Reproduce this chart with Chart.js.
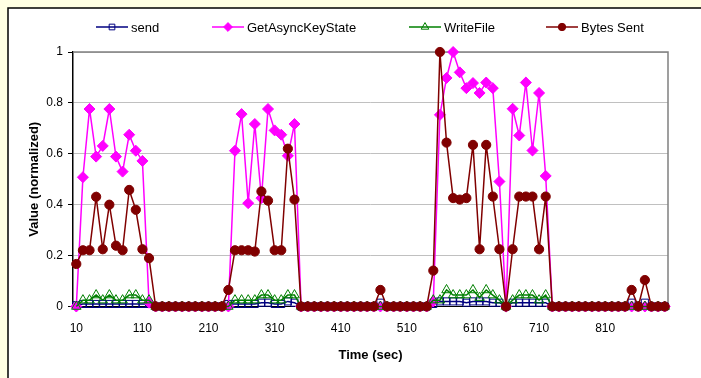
<!DOCTYPE html>
<html>
<head>
<meta charset="utf-8">
<title>Value (normalized) over time</title>
<script src="https://cdn.jsdelivr.net/npm/chart.js@4.4.1/dist/chart.umd.min.js"></script>
<style>
    html, body { margin: 0; padding: 0; background: #ffffe3; }
    #wrap { width: 701px; height: 378px; }
</style>
</head>
<body>
<div id="wrap"><canvas id="trafficChart" width="701" height="378"></canvas></div>
<script>
// sample times (sec)
const times = [
    10, 20, 30, 40, 50, 60, 70, 80, 90, 100,
    110, 120, 130, 140, 150, 160, 170, 180, 190, 200,
    210, 220, 230, 240, 250, 260, 270, 280, 290, 300,
    310, 320, 330, 340, 350, 360, 370, 380, 390, 400,
    410, 420, 430, 440, 450, 460, 470, 480, 490, 500,
    510, 520, 530, 540, 550, 560, 570, 580, 590, 600,
    610, 620, 630, 640, 650, 660, 670, 680, 690, 700,
    710, 720, 730, 740, 750, 760, 770, 780, 790, 800,
    810, 820, 830, 840, 850, 860, 870, 880, 890, 900
];

const xTickLabels = [10, 110, 210, 310, 410, 510, 610, 710, 810];
const yTicks = [0, 0.2, 0.4, 0.6, 0.8, 1];

const send = [
    0.005, 0.01, 0.01, 0.01, 0.01, 0.01, 0.01, 0.01, 0.01, 0.01,
    0.01, 0.01, 0, 0, 0, 0, 0, 0, 0, 0,
    0, 0, 0, 0.01, 0.01, 0.01, 0.01, 0.01, 0.015, 0.015,
    0.01, 0.01, 0.02, 0.015, 0, 0, 0, 0, 0, 0,
    0, 0, 0, 0, 0, 0, 0.015, 0, 0, 0,
    0, 0, 0, 0, 0.01, 0.02, 0.02, 0.02, 0.02, 0.015,
    0.02, 0.02, 0.02, 0.015, 0.015, 0, 0.015, 0.015, 0.015, 0.015,
    0.015, 0.015, 0, 0, 0, 0, 0, 0, 0, 0,
    0, 0, 0, 0, 0.015, 0, 0.015, 0, 0, 0
];

const getAsyncKeyState = [
    0, 0.508, 0.776, 0.589, 0.631, 0.776, 0.589, 0.530, 0.675, 0.612,
    0.572, 0.015, 0, 0, 0, 0, 0, 0, 0, 0,
    0, 0, 0, 0, 0.612, 0.756, 0.406, 0.717, 0.426, 0.776,
    0.692, 0.675, 0.592, 0.717, 0, 0, 0, 0, 0, 0,
    0, 0, 0, 0, 0, 0, 0, 0, 0, 0,
    0, 0, 0, 0, 0.020, 0.753, 0.898, 1.000, 0.920, 0.858,
    0.878, 0.839, 0.880, 0.858, 0.491, 0, 0.777, 0.672, 0.880, 0.613,
    0.839, 0.513, 0, 0, 0, 0, 0, 0, 0, 0,
    0, 0, 0, 0, 0, 0, 0, 0, 0, 0
];

const writeFile = [
    0, 0.025, 0.025, 0.045, 0.025, 0.045, 0.025, 0.025, 0.045, 0.045,
    0.025, 0.025, 0, 0, 0, 0, 0, 0, 0, 0,
    0, 0, 0, 0, 0.025, 0.025, 0.025, 0.025, 0.045, 0.045,
    0.025, 0.025, 0.045, 0.045, 0, 0, 0, 0, 0, 0,
    0, 0, 0, 0, 0, 0, 0, 0, 0, 0,
    0, 0, 0, 0, 0.025, 0.025, 0.065, 0.045, 0.045, 0.045,
    0.065, 0.035, 0.065, 0.045, 0.025, 0, 0.025, 0.045, 0.045, 0.045,
    0.025, 0.045, 0, 0, 0, 0, 0, 0, 0, 0,
    0, 0, 0, 0, 0, 0, 0, 0, 0, 0
];

const bytesSent = [
    0.167, 0.221, 0.221, 0.431, 0.225, 0.400, 0.239, 0.221, 0.458, 0.380,
    0.225, 0.190, 0, 0, 0, 0, 0, 0, 0, 0,
    0, 0, 0, 0.065, 0.221, 0.221, 0.221, 0.216, 0.452, 0.416,
    0.221, 0.221, 0.620, 0.420, 0, 0, 0, 0, 0, 0,
    0, 0, 0, 0, 0, 0, 0.065, 0, 0, 0,
    0, 0, 0, 0, 0.141, 1.000, 0.644, 0.426, 0.420, 0.426,
    0.635, 0.225, 0.635, 0.432, 0.225, 0, 0.225, 0.432, 0.432, 0.432,
    0.225, 0.432, 0, 0, 0, 0, 0, 0, 0, 0,
    0, 0, 0, 0, 0.065, 0, 0.104, 0, 0, 0
];

const FONT = "'Liberation Sans', Arial, sans-serif";

// series look: line colour, marker shape, filled or hollow
const series = [
    { label: 'send', data: send, color: '#000080', shape: 'rect', radius: 5, filled: false },
    { label: 'GetAsyncKeyState', data: getAsyncKeyState, color: '#ff00ff', shape: 'rectRot', radius: 5.5, filled: true },
    { label: 'WriteFile', data: writeFile, color: '#008000', shape: 'triangle', radius: 5.5, filled: false },
    { label: 'Bytes Sent', data: bytesSent, color: '#800000', shape: 'circle', radius: 4.6, filled: true }
];

// yellow page with white panel, black edge top and left
const panelBackground = {
    id: 'panelBackground',
    beforeDraw(chart) {
        const ctx = chart.ctx;
        ctx.save();
        ctx.fillStyle = '#ffffe3';
        ctx.fillRect(0, 0, chart.width, chart.height);
        ctx.fillStyle = '#ffffff';
        ctx.fillRect(8, 8, chart.width - 8, chart.height - 8);
        ctx.strokeStyle = '#000000';
        ctx.lineWidth = 1.5;
        ctx.beginPath();
        ctx.moveTo(8, chart.height);
        ctx.lineTo(8, 8);
        ctx.lineTo(chart.width, 8);
        ctx.stroke();
        ctx.restore();
    }
};

// gray frame on the top and right of the plot area
const plotFrame = {
    id: 'plotFrame',
    beforeDatasetsDraw(chart) {
        const { ctx, chartArea: a } = chart;
        ctx.save();
        ctx.strokeStyle = '#808080';
        ctx.lineWidth = 1.5;
        ctx.beginPath();
        ctx.moveTo(a.left, a.top);
        ctx.lineTo(a.right, a.top);
        ctx.lineTo(a.right, a.bottom);
        ctx.stroke();
        ctx.restore();
    }
};

function drawMarker(ctx, s, x, y) {
    const r = s.radius;
    ctx.beginPath();
    if (s.shape === 'rect') {
        const h = r * Math.SQRT1_2;
        ctx.rect(x - h, y - h, 2 * h, 2 * h);
    } else if (s.shape === 'rectRot') {
        ctx.moveTo(x, y - r);
        ctx.lineTo(x + r, y);
        ctx.lineTo(x, y + r);
        ctx.lineTo(x - r, y);
        ctx.closePath();
    } else if (s.shape === 'triangle') {
        ctx.moveTo(x, y - r);
        ctx.lineTo(x + r * 0.866, y + r * 0.5);
        ctx.lineTo(x - r * 0.866, y + r * 0.5);
        ctx.closePath();
    } else {
        ctx.arc(x, y, r, 0, Math.PI * 2);
    }
    if (s.filled) {
        ctx.fillStyle = s.color;
        ctx.fill();
    }
    ctx.strokeStyle = s.color;
    ctx.lineWidth = 1;
    ctx.stroke();
}

// line-and-marker legend across the top
const legendRow = {
    id: 'legendRow',
    afterDraw(chart) {
        const ctx = chart.ctx;
        const starts = [96, 212, 409, 546];
        const y = 27;
        ctx.save();
        ctx.font = '13px ' + FONT;
        ctx.textBaseline = 'middle';
        ctx.textAlign = 'left';
        series.forEach((s, i) => {
            const x0 = starts[i];
            ctx.strokeStyle = s.color;
            ctx.lineWidth = 1.5;
            ctx.beginPath();
            ctx.moveTo(x0, y);
            ctx.lineTo(x0 + 32, y);
            ctx.stroke();
            drawMarker(ctx, Object.assign({}, s, { radius: s.radius * 0.8 }), x0 + 16, y);
            ctx.fillStyle = '#000000';
            ctx.fillText(s.label, x0 + 35, y + 1);
        });
        ctx.restore();
    }
};

const datasets = series.map((s, i) => ({
    label: s.label,
    data: s.data,
    borderColor: s.color,
    borderWidth: 1.5,
    backgroundColor: s.color,
    pointStyle: s.shape,
    pointRadius: s.radius,
    pointBorderWidth: 1,
    pointBorderColor: s.color,
    pointBackgroundColor: s.filled ? s.color : 'rgba(0,0,0,0)',
    tension: 0,
    fill: false,
    clip: false,
    order: series.length - i
}));

new Chart(document.getElementById('trafficChart').getContext('2d'), {
    type: 'line',
    data: { labels: times, datasets: datasets },
    plugins: [panelBackground, plotFrame, legendRow],
    options: {
        responsive: false,
        animation: false,
        layout: { padding: { left: 0, top: 52, right: 33, bottom: 0 } },
        plugins: { legend: { display: false }, tooltip: { enabled: false } },
        scales: {
            x: {
                type: 'category',
                offset: true,
                grid: { display: false, drawTicks: false },
                border: { display: true, color: '#000000', width: 1 },
                ticks: {
                    autoSkip: false,
                    maxRotation: 0,
                    padding: 15,
                    color: '#000000',
                    font: { family: FONT, size: 12 },
                    callback: (v, i) => xTickLabels.includes(times[i]) ? String(times[i]) : null
                },
                title: {
                    display: true,
                    text: 'Time (sec)',
                    color: '#000000',
                    font: { family: FONT, size: 13, weight: 'bold' },
                    padding: { top: 0, bottom: 15 }
                },
                afterFit: s => { s.height = 71.5; }
            },
            y: {
                min: 0,
                max: 1,
                afterBuildTicks: s => { s.ticks = yTicks.map(v => ({ value: v })); },
                grid: { color: '#c0c0c0', tickColor: '#000000', tickLength: 5, lineWidth: 1 },
                border: { color: '#000000', width: 1.5 },
                ticks: {
                    padding: 5,
                    color: '#000000',
                    font: { family: FONT, size: 12 },
                    callback: v => String(v)
                },
                title: {
                    display: true,
                    text: 'Value (normalized)',
                    color: '#000000',
                    font: { family: FONT, size: 13, weight: 'bold' },
                    padding: { top: 27, bottom: 0 }
                },
                afterFit: s => { s.width = 73; }
            }
        }
    }
});
</script>
</body>
</html>
